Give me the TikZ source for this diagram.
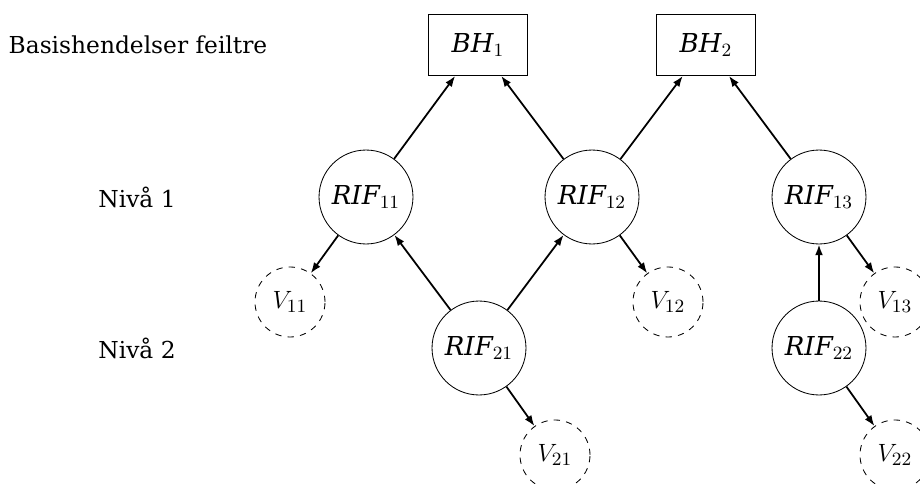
\documentclass[tikz,border=0pt]{standalone}
\usepackage{fontspec}
\setmainfont{DejaVu Serif}
\usetikzlibrary{arrows.meta}
\begin{document}
\begin{tikzpicture}[x=0.48pt,y=-0.48pt,
  every node/.style={font=\fontsize{12.5}{15}\selectfont},
  event/.style={draw,line width=0.4pt,minimum width=47.5pt,minimum height=29.3pt,inner sep=0pt},
  rif/.style={draw,circle,line width=0.4pt,minimum size=45.1pt,inner sep=0pt},
  var/.style={draw,circle,dashed,line width=0.4pt,minimum size=33.6pt,inner sep=0pt},
  link/.style={line width=0.85pt,-{Latex[length=5.2pt,width=3.8pt]}},
  lvl/.style={anchor=center,font=\fontsize{11.2}{13}\selectfont}]
\useasboundingbox (0,0) rectangle (920,484);
\clip (0,0) rectangle (920,484);

% level labels
\node[lvl] (l0) at (138,45) {Basishendelser feiltre};
\node[lvl] (l1) at (137,197) {Nivå 1};
\node[lvl] (l2) at (137,348) {Nivå 2};

% basic events of the fault tree
\node[event] (bh1) at (478,45) {$\mathit{BH}_1$};
\node[event] (bh2) at (706,45) {$\mathit{BH}_2$};

% risk influencing factors, level 1
\node[rif] (r11) at (366,197) {$\mathit{RIF}_{11}$};
\node[rif] (r12) at (592,197) {$\mathit{RIF}_{12}$};
\node[rif] (r13) at (819,197) {$\mathit{RIF}_{13}$};

% risk influencing factors, level 2
\node[rif] (r21) at (479,348) {$\mathit{RIF}_{21}$};
\node[rif] (r22) at (819,348) {$\mathit{RIF}_{22}$};

% variables
\node[var] (v11) at (290,302) {$V_{11}$};
\node[var] (v12) at (668,302) {$V_{12}$};
\node[var] (v13) at (895,302) {$V_{13}$};
\node[var] (v21) at (555,455) {$V_{21}$};
\node[var] (v22) at (895,455) {$V_{22}$};

% influences
\draw[link] (r11) -- (bh1);
\draw[link] (r12) -- (bh1);
\draw[link] (r12) -- (bh2);
\draw[link] (r13) -- (bh2);
\draw[link] (r11) -- (v11);
\draw[link] (r12) -- (v12);
\draw[link] (r13) -- (v13);
\draw[link] (r21) -- (r11);
\draw[link] (r21) -- (r12);
\draw[link] (r21) -- (v21);
\draw[link] (r22) -- (r13);
\draw[link] (r22) -- (v22);
\end{tikzpicture}
\end{document}
